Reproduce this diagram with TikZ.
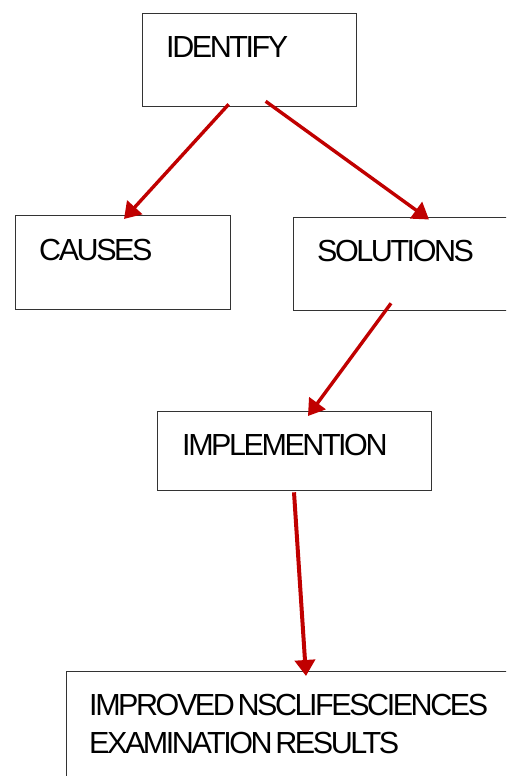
\documentclass[tikz,border=0pt]{standalone}
\usepackage{fontspec}
\setmainfont{Liberation Sans}[LetterSpace=-8,WordSpace=0.45]
\usetikzlibrary{arrows.meta}
\definecolor{arrred}{HTML}{C00000}
\definecolor{boxgray}{HTML}{333333}
\tikzset{
  box/.style={draw=boxgray, line width=1.3pt, rectangle, inner sep=0pt, anchor=north west},
  lbl/.style={anchor=base west, inner sep=0pt, font=\fontsize{30.5pt}{38pt}\selectfont, text=black},
  conn/.style={draw=arrred, line width=3.4pt, -{Triangle[length=16pt,width=20pt]}}
}
\begin{document}
\begin{tikzpicture}[x=1pt,y=-1pt]
\useasboundingbox (0,0) rectangle (506,776);
\clip (0,0) rectangle (506,776);
\node[box, minimum width=214pt, minimum height=93pt] (id) at (142,13) {};
\node[box, minimum width=215pt, minimum height=94pt] (ca) at (15,215) {};
\node[box, minimum width=260pt, minimum height=93pt] (so) at (293,216.5) {};
\node[box, minimum width=274pt, minimum height=79pt] (im) at (157,411) {};
\node[box, minimum width=480pt, minimum height=140pt] (re) at (65.5,671) {};
\node[lbl] (idt) at (166,58) {IDENTIFY};
\node[lbl] (cat) at (39,260) {CAUSES};
\node[lbl] (sot) at (317,261) {SOLUTIONS};
\node[lbl] (imt) at (182,455) {IMPLEMENTION};
\node[lbl] (ret1) at (89,715) {IMPROVED NSCLIFESCIENCES};
\node[lbl] (ret2) at (89,753) {EXAMINATION RESULTS};
\draw[conn] ([xshift=-21pt,yshift=3pt]id.south) -- ([xshift=109pt,yshift=-4pt]ca.north west);
\draw[conn] ([xshift=16pt,yshift=6pt]id.south) -- ([xshift=136pt,yshift=-3pt]so.north west);
\draw[conn] ([xshift=98pt,yshift=7.5pt]so.south west) -- ([xshift=151pt,yshift=-5pt]im.north west);
\draw[conn, line width=4pt] ([xshift=137pt,yshift=-1pt]im.south west) -- ([xshift=240.5pt,yshift=-5pt]re.north west);
\end{tikzpicture}
\end{document}
